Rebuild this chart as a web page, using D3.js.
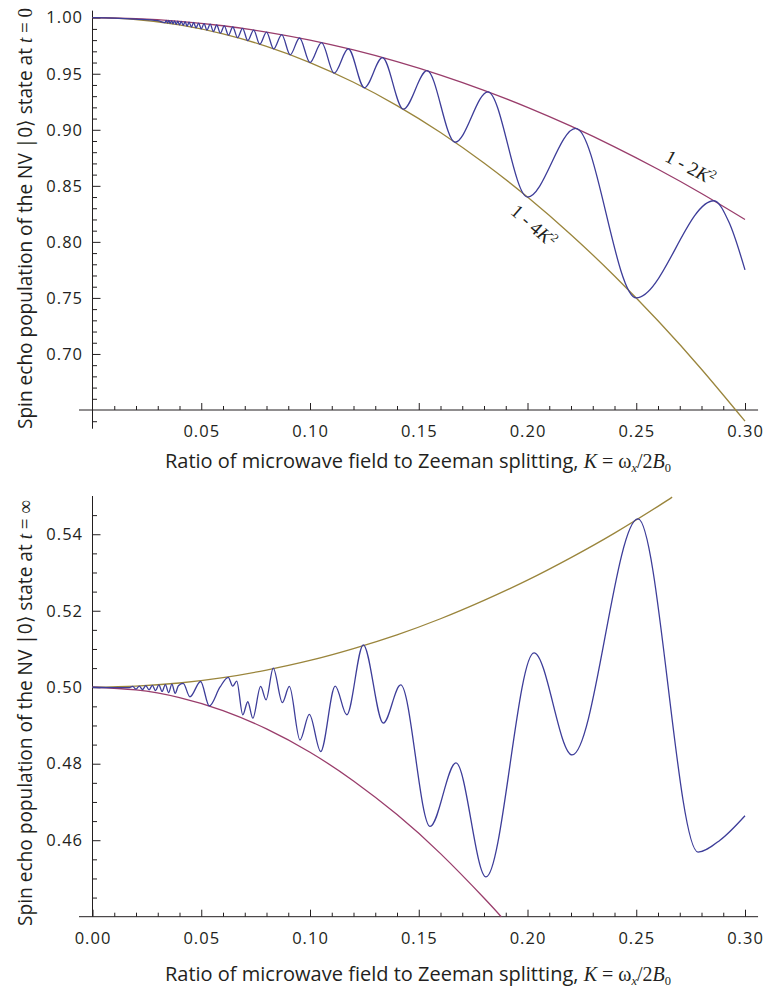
<!DOCTYPE html>
<html>
<head>
<meta charset="utf-8">
<script src="https://cdn.jsdelivr.net/npm/d3@7"></script>
<style>
  html, body { margin: 0; padding: 0; background: #fff; }
  svg { display: block; }
  .tick text { font-family: "Open Sans", "Noto Sans", sans-serif; font-size: 16.5px; fill: #231f20; letter-spacing: 1px; }
  .title { font-family: "Open Sans", "Noto Sans", sans-serif; font-size: 20px; fill: #231f20; }
  .math { font-family: "Liberation Serif", "Times New Roman", serif; font-size: 20px; }
  .sub { font-size: 12.5px; }
  .curvelabel { font-family: "Liberation Serif", "Times New Roman", serif; font-size: 19px; fill: #231f20; }
</style>
</head>
<body>
<svg id="chart" width="766" height="988"></svg>
<script>
// ---- Upper panel: spin echo population at t = 0 ----
const envK = [0, 0.02, 0.04, 0.06, 0.08, 0.10, 0.12, 0.14, 0.16, 0.18, 0.20, 0.22, 0.24, 0.26, 0.28, 0.30];
const upperEnv = [1, 0.9992, 0.9968, 0.9928, 0.9872, 0.98, 0.9712, 0.9608, 0.9488, 0.9352, 0.92, 0.9032, 0.8848, 0.8648, 0.8432, 0.82];   // 1 - 2K^2
const lowerEnv = [1, 0.9984, 0.9936, 0.9856, 0.9744, 0.96, 0.9424, 0.9216, 0.8976, 0.8704, 0.84, 0.8064, 0.7696, 0.7296, 0.6864, 0.64]; // 1 - 4K^2

const echoK = [0, 0.01, 0.02, 0.03, 0.0333, 0.0339, 0.0345, 0.0351, 0.0357, 0.0364, 0.0370, 0.0377, 0.0385, 0.0392,
  0.0400, 0.0408, 0.0417, 0.0426, 0.0435, 0.0444, 0.0455, 0.0465, 0.0476, 0.0488, 0.0500, 0.0513, 0.0526, 0.0541,
  0.0556, 0.0571, 0.0588, 0.0606, 0.0625, 0.0645, 0.0667, 0.0690, 0.0714, 0.0741, 0.0769, 0.0800, 0.0833, 0.0870,
  0.0909, 0.0952, 0.1000, 0.1053, 0.1111, 0.1176, 0.1250, 0.1333, 0.1429, 0.1538, 0.1667, 0.1818, 0.2000, 0.2222,
  0.2500, 0.2857, 0.2927, 0.3000];
const echoPop = [1, 0.9997, 0.9988, 0.9973, 0.9956, 0.9977, 0.9952, 0.9975, 0.9949, 0.9974, 0.9945, 0.9972, 0.9941, 0.9969,
  0.9936, 0.9967, 0.9931, 0.9964, 0.9924, 0.9960, 0.9917, 0.9957, 0.9909, 0.9952, 0.9900, 0.9947, 0.9889, 0.9942,
  0.9877, 0.9935, 0.9862, 0.9927, 0.9844, 0.9917, 0.9822, 0.9905, 0.9796, 0.9890, 0.9763, 0.9872, 0.9722, 0.9849,
  0.9669, 0.9819, 0.9600, 0.9778, 0.9506, 0.9723, 0.9375, 0.9644, 0.9184, 0.9527, 0.8889, 0.9339, 0.8400, 0.9012,
  0.7500, 0.8367, 0.8172, 0.7750];

const topYTicks = [0.70, 0.75, 0.80, 0.85, 0.90, 0.95, 1.00];
const topXTicks = [0.05, 0.10, 0.15, 0.20, 0.25, 0.30];

// ---- Lower panel: population at t = infinity ----
const relaxEnvUpK = [0, 0.02, 0.04, 0.06, 0.08, 0.10, 0.12, 0.14, 0.16, 0.18, 0.20, 0.22, 0.24, 0.26, 0.2665];
const relaxEnvUp = [0.5, 0.5003, 0.5011, 0.5025, 0.5045, 0.507, 0.5101, 0.5137, 0.5179, 0.5227, 0.528, 0.5339, 0.5403, 0.5473, 0.5497];
const relaxEnvLoK = [0, 0.02, 0.04, 0.06, 0.08, 0.10, 0.12, 0.14, 0.16, 0.18, 0.1879];
const relaxEnvLo = [0.5, 0.4993, 0.4973, 0.4939, 0.4891, 0.483, 0.4755, 0.4667, 0.4565, 0.4449, 0.4400];

const relaxK = [0, 0.010, 0.017, 0.0185, 0.020, 0.0215, 0.023, 0.0245, 0.026, 0.0275, 0.029, 0.0305, 0.032, 0.0335,
  0.035, 0.0365, 0.038, 0.0395, 0.0417, 0.0448, 0.0497, 0.0537, 0.0586, 0.0624, 0.0645, 0.0663, 0.0691, 0.0714,
  0.0737, 0.0773, 0.0798, 0.0831, 0.0873, 0.0905, 0.0954, 0.0997, 0.1049, 0.1116, 0.1169, 0.1245, 0.1337, 0.1417,
  0.1552, 0.1671, 0.1809, 0.2030, 0.2205, 0.2508, 0.2784, 0.2885, 0.3000];
const relaxPop = [0.5, 0.4999, 0.4999, 0.5002, 0.4995, 0.5003, 0.4994, 0.5004, 0.4993, 0.5005, 0.4991, 0.5006, 0.4989, 0.5007,
  0.4986, 0.5008, 0.4984, 0.5004, 0.5010, 0.4975, 0.5015, 0.4951, 0.5000, 0.5026, 0.5003, 0.5016, 0.4928, 0.4962,
  0.4919, 0.5002, 0.4967, 0.5050, 0.4960, 0.5002, 0.4862, 0.4929, 0.4832, 0.5003, 0.4928, 0.5111, 0.4906, 0.5006,
  0.4636, 0.4802, 0.4504, 0.5090, 0.4823, 0.5440, 0.4569, 0.4600, 0.4664];

const botYTicks = [0.46, 0.48, 0.50, 0.52, 0.54];
const botXTicks = [0.00, 0.05, 0.10, 0.15, 0.20, 0.25, 0.30];

const colors = { blue: "#3d3d99", magenta: "#993d6b", olive: "#9a853c", axis: "#231f20" };

const svg = d3.select("#chart");
svg.append("rect").attr("width", 766).attr("height", 988).attr("fill", "#fff");

function zipPts(xs, ys) { return xs.map((k, i) => [k, ys[i]]); }

function panel(cfg) {
  const x = d3.scaleLinear().domain([0, 0.30]).range([92.5, 745]);
  const y = d3.scaleLinear().domain(cfg.yDomain).range(cfg.yRange);
  const g = svg.append("g");

  // x axis line and ticks (ticks point into the plot)
  g.append("line")
    .attr("x1", x(-0.0062)).attr("x2", x(0.306))
    .attr("y1", y(cfg.yDomain[0])).attr("y2", y(cfg.yDomain[0]))
    .attr("stroke", colors.axis).attr("stroke-width", 1);
  const xMinor = d3.range(0, 31).map(i => i / 100).filter(v => Math.round(v * 100) % 5 !== 0);
  g.append("g").attr("transform", `translate(0,${y(cfg.yDomain[0])})`)
    .call(d3.axisBottom(x).tickValues(xMinor).tickSize(-4).tickFormat(""))
    .call(a => a.select(".domain").remove())
    .selectAll("line").attr("stroke", colors.axis);
  g.append("g").attr("transform", `translate(0,${y(cfg.yDomain[0])})`)
    .call(d3.axisBottom(x).tickValues(cfg.xTicks).tickSize(-7).tickPadding(15.5).tickFormat(d3.format(".2f")))
    .call(a => a.select(".domain").remove())
    .call(a => a.selectAll("line").attr("stroke", colors.axis))
    .call(a => a.selectAll("text").attr("fill", colors.axis));

  // y axis line and ticks
  g.append("line")
    .attr("x1", x(0)).attr("x2", x(0))
    .attr("y1", y(cfg.yAxisExtent[0])).attr("y2", y(cfg.yAxisExtent[1]))
    .attr("stroke", colors.axis).attr("stroke-width", 1);
  g.append("g").attr("transform", `translate(${x(0)},0)`)
    .call(d3.axisLeft(y).tickValues(cfg.yMinor).tickSize(-4.5).tickFormat(""))
    .call(a => a.select(".domain").remove())
    .selectAll("line").attr("stroke", colors.axis);
  g.append("g").attr("transform", `translate(${x(0)},0)`)
    .call(d3.axisLeft(y).tickValues(cfg.yTicks).tickSize(-8).tickPadding(9.5).tickFormat(d3.format(".2f")))
    .call(a => a.select(".domain").remove())
    .call(a => a.selectAll("line").attr("stroke", colors.axis))
    .call(a => a.selectAll("text").attr("fill", colors.axis));

  const line = d3.line().x(d => x(d[0])).y(d => y(d[1]));
  cfg.curves.forEach(c => {
    g.append("path").datum(c.pts)
      .attr("d", line.curve(c.curve)(c.pts))
      .attr("fill", "none").attr("stroke", c.color).attr("stroke-width", 1.3)
      .attr("stroke-linejoin", "round");
  });

  // x-axis title
  const xt = g.append("text").attr("class", "title")
    .attr("x", 418).attr("y", cfg.xTitleY)
    .attr("text-anchor", "middle");
  xt.append("tspan").text("Ratio of microwave field to Zeeman splitting, ");
  xt.append("tspan").attr("class", "math").attr("font-style", "italic").text("K");
  xt.append("tspan").attr("class", "math").text(" = ω");
  xt.append("tspan").attr("class", "math sub").attr("font-style", "italic").attr("dy", 4).text("x");
  xt.append("tspan").attr("class", "math").attr("dy", -4).text("/2");
  xt.append("tspan").attr("class", "math").attr("font-style", "italic").text("B");
  xt.append("tspan").attr("class", "math sub").attr("dy", 4).text("0");

  // y-axis title, fitted to the panel height
  const yt = g.append("text").attr("class", "title")
    .attr("transform", `translate(32,${cfg.yTitleCenter}) rotate(-90)`)
    .attr("text-anchor", "middle")
    .attr("textLength", cfg.yTitleLength).attr("lengthAdjust", "spacingAndGlyphs");
  yt.append("tspan").text("Spin echo population of the  NV |0⟩ state at ");
  yt.append("tspan").attr("class", "math").attr("font-style", "italic").text("t");
  yt.append("tspan").attr("class", "math").text(" = " + cfg.timeLabel);

  return { x, y, g };
}

const topPanel = panel({
  yDomain: [0.65, 1.0], yRange: [410, 17.7],
  yAxisExtent: [0.6333, 1.0063],
  yTicks: topYTicks,
  yMinor: d3.range(64, 101).map(i => i / 100).filter(v => Math.round(v * 100) % 5 !== 0),
  xTicks: topXTicks,
  xTitleY: 468, yTitleCenter: 218.5, yTitleLength: 421, timeLabel: "0",
  curves: [
    { pts: zipPts(envK, lowerEnv), color: colors.olive, curve: d3.curveNatural },
    { pts: zipPts(envK, upperEnv), color: colors.magenta, curve: d3.curveNatural },
    { pts: zipPts(echoK, echoPop), color: colors.blue, curve: d3.curveMonotoneX }
  ]
});

// labels along the envelope curves
function curveLabel(p, k, v, angle, parts) {
  const t = p.g.append("text").attr("class", "curvelabel")
    .attr("text-anchor", "middle")
    .attr("transform", `translate(${p.x(k)},${p.y(v)}) rotate(${angle})`);
  parts.forEach(s => {
    const ts = t.append("tspan").text(s.t);
    if (s.i) ts.attr("font-style", "italic");
    if (s.sup) ts.style("font-size", "12px").attr("dy", -7);
  });
}
curveLabel(topPanel, 0.2735, 0.8615, 28, [{ t: "1 - 2" }, { t: "K", i: true }, { t: "2", sup: true }]);
curveLabel(topPanel, 0.2010, 0.8100, 41, [{ t: "1 - 4" }, { t: "K", i: true }, { t: "2", sup: true }]);

panel({
  yDomain: [0.44, 0.55], yRange: [916.7, 496],
  yAxisExtent: [0.44, 0.55],
  yTicks: botYTicks,
  yMinor: d3.range(89, 110).map(i => i / 200).filter(v => Math.round(v * 200) % 4 !== 0),
  xTicks: botXTicks,
  xTitleY: 981, yTitleCenter: 713, yTitleLength: 426, timeLabel: "∞",
  curves: [
    { pts: zipPts(relaxEnvUpK, relaxEnvUp), color: colors.olive, curve: d3.curveNatural },
    { pts: zipPts(relaxEnvLoK, relaxEnvLo), color: colors.magenta, curve: d3.curveNatural },
    { pts: zipPts(relaxK, relaxPop), color: colors.blue, curve: d3.curveMonotoneX }
  ]
});
</script>
</body>
</html>
